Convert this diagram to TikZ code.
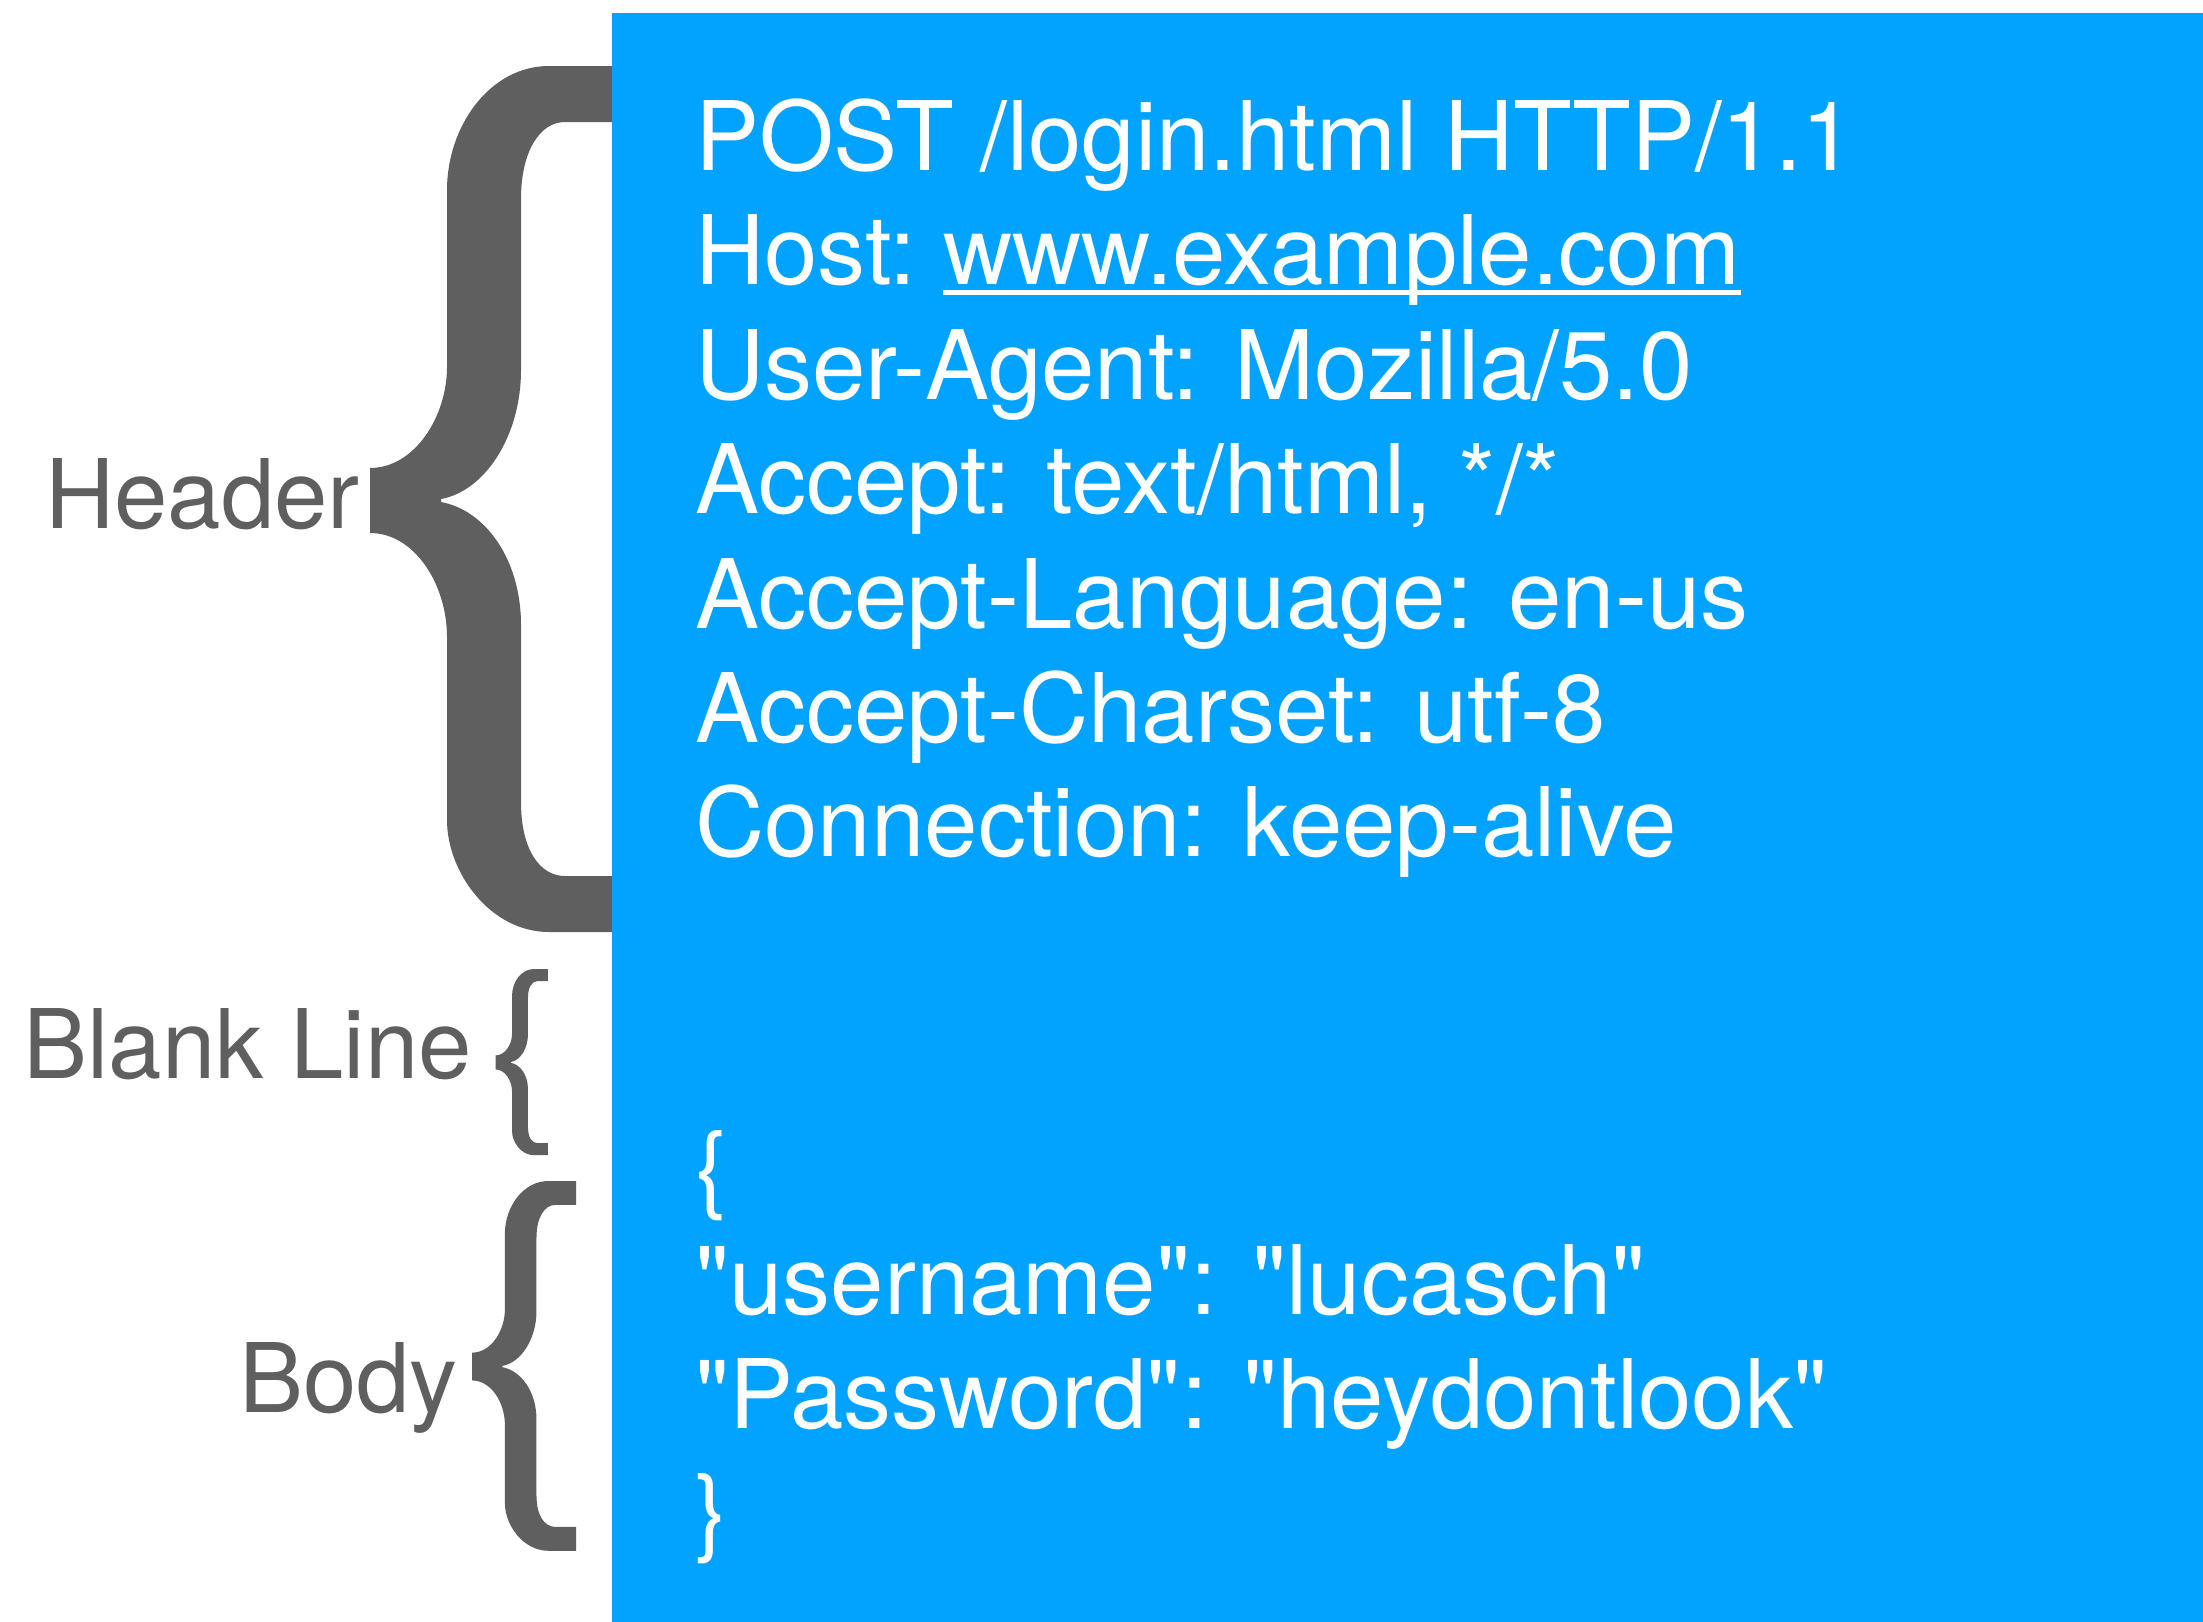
\documentclass[tikz,border=0pt]{standalone}
\usepackage{fontspec}
\setmainfont{TeX Gyre Heros}[Ligatures=TeXOff]
\definecolor{reqblue}{RGB}{2,162,255}
\definecolor{bracegray}{RGB}{95,95,95}
\tikzset{
  txt/.style={font=\fontsize{96}{114}\selectfont, text=white, inner sep=0pt, anchor=base west},
  lbl/.style={font=\fontsize{96}{114}\selectfont, text=bracegray, inner sep=0pt, anchor=base east},
  bracepic/.pic={
    \fill[bracegray] (244,0) -- (179,0) .. controls (120,0) and (77,60) .. (77,124)
      -- (77,301) .. controls (77,350) and (45,402) .. (0,402)
      -- (0,467) .. controls (45,467) and (77,519) .. (77,571)
      -- (77,754) .. controls (77,806) and (120,866) .. (179,866)
      -- (244,866) -- (244,810) -- (195,810) .. controls (170,810) and (151,784) .. (151,736)
      -- (151,559) .. controls (151,493) and (115,444) .. (71,436)
      -- (71,433) .. controls (115,425) and (151,370) .. (151,304)
      -- (151,133) .. controls (151,85) and (170,56) .. (195,56)
      -- (244,56) -- cycle;
  }
}
\begin{document}
\begin{tikzpicture}[x=1pt,y=-1pt]
\useasboundingbox (0,0) rectangle (2203,1622);
\fill[white] (0,0) rectangle (2203,1622);
% braces
\pic (hbrace) at (370,66) {bracepic};
\pic[scale=0.215] (bbrace) at (495.5,969) {bracepic};
\pic[scale=0.427] (ybrace) at (472,1181) {bracepic};
% request box
\fill[reqblue] (612,13) rectangle (2203,1622);
% labels
\node[lbl] (header) at (360,528) {Header};
\node[lbl] (blank) at (472,1078) {Blank Line};
\node[lbl] (body) at (458,1412) {Body};
% request text
\node[txt] (l1) at (695,170.5) {POST /login.html HTTP/1.1};
\node[txt] (l2) at (695,284.9) {Host:};
\node[txt] (url) at ([xshift=26.7pt]l2.base east) {www.example.com};
\fill[white] ([yshift=-4.6pt]url.base west) rectangle ([yshift=-9.6pt]url.base east);
\node[txt] (l3) at (695,399.3) {User-Agent: Mozilla/5.0};
\node[txt] (l4) at (695,513.7) {Accept: text/html, */*};
\node[txt] (l5) at (695,628.1) {Accept-Language: en-us};
\node[txt] (l6) at (695,742.5) {Accept-Charset: utf-8};
\node[txt] (l7) at (695,856.9) {Connection: keep-alive};
\node[txt] (b1) at (695,1200.1) {\{};
\node[txt] (b2) at (695,1314.5) {"username": "lucasch"};
\node[txt] (b3) at (695,1428.9) {"Password": "heydontlook"};
\node[txt] (b4) at (695,1543.3) {\}};
\end{tikzpicture}
\end{document}
